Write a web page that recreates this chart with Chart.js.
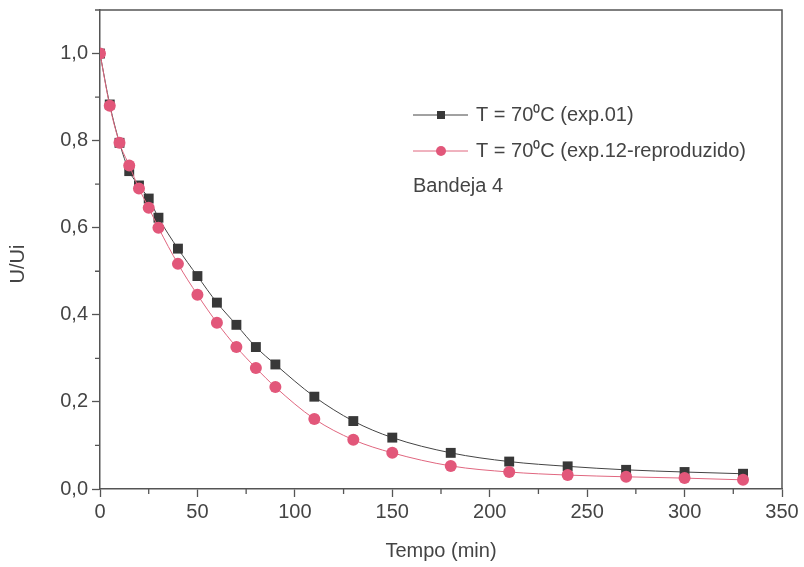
<!DOCTYPE html>
<html>
<head>
<meta charset="utf-8">
<script src="https://cdn.jsdelivr.net/npm/chart.js@4.4.0/dist/chart.umd.min.js"></script>
<style>
 html,body{margin:0;padding:0;background:#fff;}
 #wrap{width:804px;height:567px;}
</style>
</head>
<body>
<div id="wrap"><canvas id="chart" width="804" height="567"></canvas></div>
<script>
const tempo=[0,5,10,15,20,25,30,40,50,60,70,80,90,110,130,150,180,210,240,270,300,330];
const exp01=[1.0,0.883,0.795,0.730,0.697,0.667,0.623,0.552,0.489,0.428,0.377,0.326,0.286,0.212,0.156,0.118,0.083,0.063,0.052,0.044,0.039,0.035];
const exp12=[1.0,0.880,0.795,0.743,0.690,0.646,0.600,0.517,0.446,0.382,0.326,0.278,0.234,0.161,0.113,0.083,0.053,0.039,0.032,0.028,0.025,0.021];
const seriesLabels=['T = 70\u2070C (exp.01)','T = 70\u2070C (exp.12-reproduzido)'];
const note='Bandeja 4';
const yTitle='U/Ui';

const axisColor='#555';
const textColor='#444';
const font='"Liberation Sans", Arial, sans-serif';

const pts=ys=>tempo.map((t,i)=>({x:t,y:ys[i]}));

// frame, minor ticks, y title and the legend inside the plot
const extras={
 id:'extras',
 afterDraw(c){
  const ctx=c.ctx,a=c.chartArea,xs=c.scales.x,ys=c.scales.y;
  ctx.save();
  ctx.strokeStyle=axisColor;ctx.lineWidth=1.5;
  ctx.beginPath();
  ctx.moveTo(a.left,a.top);ctx.lineTo(a.right,a.top);ctx.lineTo(a.right,a.bottom);
  ctx.stroke();
  ctx.lineWidth=1.3;
  ctx.beginPath();
  for(let v=25;v<350;v+=50){const p=xs.getPixelForValue(v);ctx.moveTo(p,a.bottom);ctx.lineTo(p,a.bottom+5);}
  for(let v=0.1;v<1.1;v+=0.2){const p=ys.getPixelForValue(v);ctx.moveTo(a.left,p);ctx.lineTo(a.left-5,p);}
  ctx.stroke();

  ctx.font='20px '+font;ctx.textBaseline='middle';ctx.fillStyle=textColor;
  ctx.save();ctx.translate(18,264);ctx.rotate(-Math.PI/2);ctx.textAlign='center';
  ctx.fillText(yTitle,0,0);ctx.restore();

  const ds=c.data.datasets;
  const x0=413,x1=468,xm=441,tx=476;
  const rows=[115,151];
  ds.forEach((d,i)=>{
   const y=rows[i];
   ctx.strokeStyle=d.borderColor;ctx.lineWidth=1;
   ctx.beginPath();ctx.moveTo(x0,y);ctx.lineTo(x1,y);ctx.stroke();
   ctx.fillStyle=d.pointBackgroundColor;
   if(d.pointStyle==='rect'){ctx.fillRect(xm-4,y-4,8,8);}
   else{ctx.beginPath();ctx.arc(xm,y,5,0,Math.PI*2);ctx.fill();}
   ctx.fillStyle=textColor;
   ctx.fillText(d.label,tx,y);
  });
  ctx.fillText(note,x0,186);
  ctx.restore();
 }
};

new Chart(document.getElementById('chart'),{
 type:'line',
 data:{datasets:[
  {label:seriesLabels[0],data:pts(exp01),borderColor:'#444',borderWidth:1,
   pointStyle:'rect',pointRadius:7,pointBackgroundColor:'#383838',pointBorderColor:'#383838',pointBorderWidth:0,
   cubicInterpolationMode:'monotone',order:2},
  {label:seriesLabels[1],data:pts(exp12),borderColor:'#e0667f',borderWidth:1,
   pointStyle:'circle',pointRadius:6,pointBackgroundColor:'#e2577a',pointBorderColor:'#e2577a',pointBorderWidth:0,
   cubicInterpolationMode:'monotone',order:1}
 ]},
 options:{
  responsive:false,animation:false,
  layout:{padding:{top:10,right:22,left:0,bottom:0}},
  plugins:{legend:{display:false},tooltip:{enabled:false}},
  scales:{
   x:{type:'linear',min:0,max:350,
    ticks:{stepSize:50,color:textColor,font:{family:font,size:20},padding:3,includeBounds:false},
    grid:{drawOnChartArea:false,tickLength:8,color:axisColor,tickWidth:1.3},
    border:{color:axisColor,width:1.5},
    title:{display:true,text:'Tempo (min)',color:textColor,font:{family:font,size:20},padding:{top:6,bottom:4}},
    afterFit(s){s.height=78;}
   },
   y:{type:'linear',min:0,max:1.1,
    ticks:{stepSize:0.2,color:textColor,font:{family:font,size:20},padding:4,includeBounds:false,
     callback:v=>v.toFixed(1).replace('.',',')},
    grid:{drawOnChartArea:false,tickLength:8,color:axisColor,tickWidth:1.3},
    border:{color:axisColor,width:1.5},
    afterFit(s){s.width=100;s.paddingTop=0;s.paddingBottom=0;}
   }
  }
 },
 plugins:[extras]
});
</script>
</body>
</html>
